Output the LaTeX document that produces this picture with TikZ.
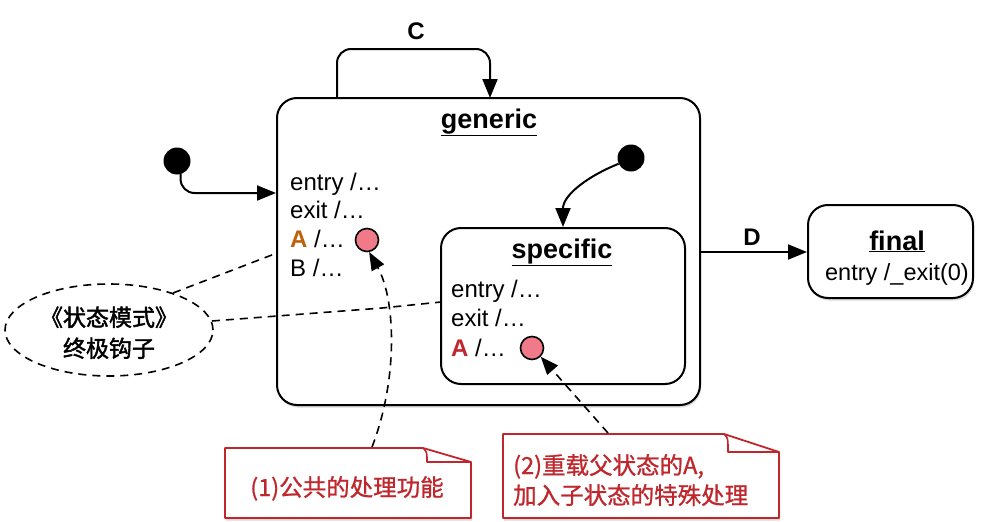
\documentclass[tikz,border=0pt]{standalone}
\usepackage{fontspec}
\setmainfont{Liberation Sans}
\newfontfamily\cjk[FakeBold=1.8]{Noto Sans CJK SC}
\newfontfamily\cjkn[FakeBold=1]{Noto Sans CJK SC}
\usetikzlibrary{arrows.meta,shadows,shapes.geometric}
\definecolor{notered}{HTML}{C0272D}
\definecolor{hookpink}{HTML}{F07A8A}
\definecolor{aorange}{HTML}{C0600A}
\tikzset{
 statebox/.style={draw, line width=2pt, rounded corners=20pt, fill=white, inner sep=0pt},
 shad/.style={drop shadow={shadow xshift=1pt,shadow yshift=-2.5pt,opacity=0.3}},
 body/.style={font=\fontsize{24}{29}\selectfont, anchor=base west, inner sep=0pt},
 ttl/.style={font=\bfseries\fontsize{27}{32}\selectfont, inner sep=0pt, anchor=base},
 lbl/.style={font=\bfseries\fontsize{24}{29}\selectfont, inner sep=0pt},
 trans/.style={line width=2pt, -{Triangle[length=19pt,width=15pt]}},
 hookarrow/.style={line width=1.6pt, dash pattern=on 8pt off 6pt, -{Triangle[length=18pt,width=14pt]}},
 guide/.style={line width=1.6pt, dash pattern=on 8pt off 6pt},
 initdot/.style={circle, fill=black, minimum size=27pt, inner sep=0pt},
 hook/.style={circle, draw, line width=1.6pt, fill=hookpink, minimum size=23pt, inner sep=0pt},
 notebox/.style={draw=notered, line width=1.8pt, fill=white, line join=round},
 notetext/.style={text=notered, font=\cjkn\fontsize{23.5}{30}\selectfont, inner sep=0pt, anchor=base},
 cjktext/.style={font=\cjk\fontsize{23}{30}\selectfont, inner sep=0pt, anchor=base},
}
\begin{document}
\begin{tikzpicture}[x=1pt,y=-1pt]
\useasboundingbox (0,0) rectangle (986,522);
% states
\node[statebox, shad, minimum width=423pt, minimum height=307pt] (gen) at (488.5,251.5) {};
\node[statebox, minimum width=244pt, minimum height=156pt] (spec) at (563,306) {};
\node[statebox, shad, minimum width=165pt, minimum height=93pt] (fin) at (890.5,251.5) {};
% generic contents
\node[ttl] (gentitle) at (489,128) {\underline{generic}};
\node[body] (g1) at (290,190) {entry /\ldots};
\node[body] (g2) at (290,218) {exit /\ldots};
\node[body] (g3) at (290,247) {\textcolor{aorange}{\textbf{A}} /\ldots};
\node[body] (g4) at (290,276) {B /\ldots};
\node[hook] (h1) at (367,240) {};
% specific contents
\node[ttl] (spectitle) at (562,258) {\underline{specific}};
\node[body] (s1) at (451,297) {entry /\ldots};
\node[body] (s2) at (451,326) {exit /\ldots};
\node[body] (s3) at (451,356) {\textcolor{notered}{\textbf{A}} /\ldots};
\node[hook] (h2) at (532,348) {};
% final contents
\node[ttl] (fintitle) at (897,250) {\underline{final}};
\node[font=\fontsize{23.5}{29}\selectfont, inner sep=0pt, anchor=base] (fbody) at (897,280) {entry /\_exit(0)};
% initial dots
\node[initdot] (i1) at (177,161) {};
\node[initdot] (i2) at (631,158) {};
\draw[trans, rounded corners=14pt] (i1.-75) |- (gen.west |- 0,193);
\draw[trans] (i2.205) .. controls (588,176) and (563,195) .. (spec.north);
% self transition C
\coordinate (c1) at (337,98);
\coordinate (c2) at (490,98);
\draw[trans, rounded corners=14pt] (c1) -- (337,49) -- (490,49) -- (c2);
\node[lbl] (cl) at (416,31) {C};
% transition D
\draw[trans] (gen.east |- 0,252) -- (fin.west |- 0,252);
\node[lbl] (dl) at (752,237) {D};
% ellipse
\node[draw, ellipse, guide, minimum width=208pt, minimum height=92pt, inner sep=0pt] (ell) at (109,330) {};
\node[cjktext] (e1) at (109,326) {《状态模式》};
\node[cjktext] (e2) at (109,357) {终极钩子};
\coordinate (ga) at (277,253);
\coordinate (sa) at (441,302);
\draw[guide] (ell.30) -- (ga);
\draw[guide] (ell.5) -- (382,308) -- (sa);
% notes
\draw[notebox, shad] (225,448) -- (423,448) -- (471,462) -- (471,518) -- (225,518) -- cycle;
\draw[draw=notered, line width=1.6pt, line join=round] (423,448) .. controls (427,452) .. (427,462) -- (470,462);
\node[notetext] (n1) at (347,496) {(1)公共的处理功能};
\draw[notebox, shad] (503,434) -- (724,434) -- (779,452) -- (779,518) -- (503,518) -- cycle;
\draw[draw=notered, line width=1.6pt, line join=round] (724,434) .. controls (728,438) .. (728,452) -- (778,452);
\node[notetext, anchor=base west] (n2a) at (513,474) {(2)重载父状态的A,};
\node[notetext, anchor=base west] (n2b) at (513,504) {加入子状态的特殊处理};
\coordinate (n1top) at (372,447);
\coordinate (n2top) at (608,433);
\draw[hookarrow] (n1top) .. controls (398,380) and (396,300) .. (h1.-80);
\draw[hookarrow] (n2top) -- (h2.-45);
\end{tikzpicture}
\end{document}
